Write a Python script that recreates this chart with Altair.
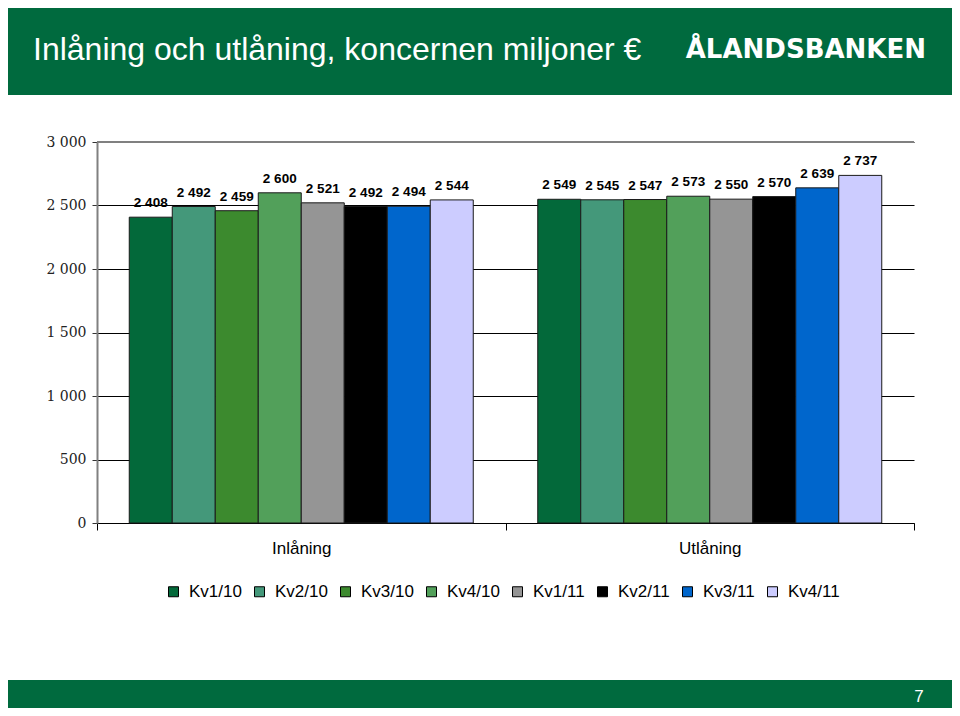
import altair as alt
import pandas as pd

quarters = ["Kv1/10", "Kv2/10", "Kv3/10", "Kv4/10", "Kv1/11", "Kv2/11", "Kv3/11", "Kv4/11"]
groups = ["Inlåning", "Utlåning"]
inlaning = [2408, 2492, 2459, 2600, 2521, 2492, 2494, 2544]
utlaning = [2549, 2545, 2547, 2573, 2550, 2570, 2639, 2737]
colors = ["#03693A", "#44987A", "#3C8A2E", "#52A05A", "#959595", "#000000", "#0066CC", "#CCCCFF"]
y_ticks = [0, 500, 1000, 1500, 2000, 2500, 3000]
title_text = "Inlåning och utlåning, koncernen miljoner €"
logo_text = "ÅLANDSBANKEN"
page_no = "7"

rows = []
for g, vals in zip(groups, [inlaning, utlaning]):
    for q, v in zip(quarters, vals):
        rows.append({"group": g, "quarter": q, "value": v})
df = pd.DataFrame(rows)
one = pd.DataFrame({"k": [0]})

W, H = 817, 381
GREEN = "#006A3E"
SANS = "Liberation Sans, Arial, sans-serif"

x_enc = alt.X(
    "group:N", sort=groups,
    scale=alt.Scale(paddingInner=0, paddingOuter=0),
    axis=alt.Axis(title=None, labelAngle=0, labelFontSize=17, labelFont=SANS,
                  labelColor="black", labelPadding=10, domainColor="black",
                  domainWidth=1, tickBand="extent", tickSize=7, tickColor="black",
                  tickWidth=1, grid=False),
)
xo_enc = alt.XOffset("quarter:N", sort=quarters,
                     scale=alt.Scale(paddingInner=0, paddingOuter=0.75))
y_enc = alt.Y(
    "value:Q",
    scale=alt.Scale(domain=[0, 3000], nice=False),
    axis=alt.Axis(values=y_ticks, title=None, grid=True, gridColor="black",
                  gridWidth=1, gridOpacity=1, domainColor="#808080", domainWidth=2,
                  tickColor="#333333", tickSize=5, labelPadding=6, labelFontSize=14,
                  labelFont="DejaVu Serif, serif", labelColor="#222222",
                  labelExpr="replace(format(datum.value, ','), ',', ' ')"),
)

base = alt.Chart(df).transform_calculate(
    label="replace(format(datum.value, ','), ',', ' ')"
)

bars = base.mark_bar(stroke="#1a1a1a", strokeWidth=1).encode(
    x=x_enc, xOffset=xo_enc, y=y_enc,
    color=alt.Color("quarter:N", sort=quarters,
                    scale=alt.Scale(domain=quarters, range=colors),
                    legend=alt.Legend(orient="none", legendX=68, legendY=441,
                                      direction="horizontal", columns=8, title=None,
                                      symbolType="square", symbolSize=100,
                                      symbolStrokeColor="black", symbolStrokeWidth=1,
                                      labelFontSize=17, labelFont=SANS, labelColor="black",
                                      labelOffset=7, columnPadding=9, padding=0)),
)

labels = base.mark_text(dy=-14, fontSize=13.5, fontWeight="bold", font=SANS,
                        color="black", baseline="middle").encode(
    x=alt.X("group:N", sort=groups), xOffset=alt.XOffset("quarter:N", sort=quarters),
    y="value:Q", text="label:N",
)

top_line = alt.Chart(one).mark_rule(color="#808080", strokeWidth=2).encode(
    y=alt.datum(3000), x=alt.value(0), x2=alt.value(W)
)

header = alt.Chart(one).mark_rect(color=GREEN).encode(
    x=alt.value(-89), x2=alt.value(855), y=alt.value(-134), y2=alt.value(-47)
)
title = alt.Chart(one).mark_text(text=title_text, color="white", fontSize=32,
                                 font="Liberation Sans Narrow, Liberation Sans, sans-serif",
                                 align="left", baseline="middle").encode(
    x=alt.value(-64), y=alt.value(-92)
)
logo = alt.Chart(one).mark_text(text=logo_text, color="white", fontSize=26,
                                font="DejaVu Sans", fontWeight="bold",
                                align="right", baseline="middle").encode(
    x=alt.value(829), y=alt.value(-92)
)
footer = alt.Chart(one).mark_rect(color=GREEN).encode(
    x=alt.value(-89), x2=alt.value(855), y=alt.value(538), y2=alt.value(566)
)
page = alt.Chart(one).mark_text(text=page_no, color="white", fontSize=17, font=SANS,
                                align="center", baseline="middle").encode(
    x=alt.value(822), y=alt.value(555)
)

chart = alt.layer(header, footer, title, logo, page, bars, top_line, labels).properties(
    width=W, height=H,
    padding={"left": 89, "top": 134, "right": 38, "bottom": 185},
    autosize=alt.AutoSizeParams(type="none"),
    background="white",
).configure_view(stroke=None)

chart.save("out.html", embed_options={"renderer": "svg", "actions": False})
